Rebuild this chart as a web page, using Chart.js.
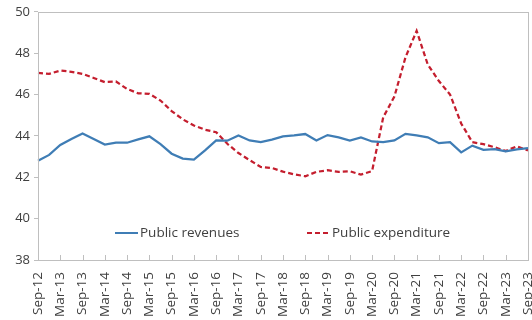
<!DOCTYPE html>
<html>
<head>
<meta charset="utf-8">
<script src="https://cdn.jsdelivr.net/npm/chart.js@4/dist/chart.umd.min.js"></script>
<style>
  html, body { margin: 0; padding: 0; background: #ffffff; }
  #wrap { width: 532px; height: 320px; position: relative; }
</style>
</head>
<body>
<div id="wrap"><canvas id="c" width="532" height="320"></canvas></div>
<script>
const quarters = [
  'Sep-12','Dec-12','Mar-13','Jun-13','Sep-13','Dec-13','Mar-14','Jun-14','Sep-14','Dec-14',
  'Mar-15','Jun-15','Sep-15','Dec-15','Mar-16','Jun-16','Sep-16','Dec-16','Mar-17','Jun-17',
  'Sep-17','Dec-17','Mar-18','Jun-18','Sep-18','Dec-18','Mar-19','Jun-19','Sep-19','Dec-19',
  'Mar-20','Jun-20','Sep-20','Dec-20','Mar-21','Jun-21','Sep-21','Dec-21','Mar-22','Jun-22',
  'Sep-22','Dec-22','Mar-23','Jun-23','Sep-23'
];

const publicRevenues = [
  42.80, 43.08, 43.56, 43.85, 44.12, 43.85, 43.58, 43.67, 43.67, 43.83,
  43.98, 43.60, 43.14, 42.90, 42.85, 43.30, 43.78, 43.77, 44.02, 43.78,
  43.70, 43.82, 43.98, 44.02, 44.09, 43.78, 44.04, 43.93, 43.77, 43.93,
  43.73, 43.70, 43.78, 44.10, 44.02, 43.93, 43.65, 43.70, 43.20, 43.53,
  43.33, 43.36, 43.25, 43.35, 43.41
];

const publicExpenditure = [
  47.05, 47.00, 47.16, 47.10, 47.00, 46.80, 46.60, 46.63, 46.27, 46.06,
  46.03, 45.71, 45.20, 44.80, 44.50, 44.30, 44.18, 43.62, 43.17, 42.83,
  42.50, 42.45, 42.27, 42.14, 42.05, 42.26, 42.34, 42.26, 42.29, 42.13,
  42.30, 44.90, 45.90, 47.80, 49.08, 47.45, 46.65, 46.00, 44.60, 43.70,
  43.60, 43.45, 43.27, 43.50, 43.30
];

const seriesNames = ['Public revenues', 'Public expenditure'];
const yTicks = [38, 40, 42, 44, 46, 48, 50];

const FONT = '"Open Sans", "Noto Sans", sans-serif';
const TEXT = '#404040';
const AXIS = '#bfbfbf';

const frame = {
  id: 'frame',
  afterDatasetsDraw(chart) {
    const { ctx, chartArea: a, scales } = chart;
    ctx.save();
    ctx.strokeStyle = AXIS;
    ctx.lineWidth = 1;
    ctx.strokeRect(Math.round(a.left) + 0.5, Math.round(a.top) + 0.5,
                   Math.round(a.right - a.left), Math.round(a.bottom - a.top));
    const xs = scales.x;
    ctx.beginPath();
    for (let i = 0; i < quarters.length; i += 2) {
      const x = Math.round(xs.getPixelForValue(i)) + 0.5;
      ctx.moveTo(x, a.bottom);
      ctx.lineTo(x, a.bottom - 5);
    }
    ctx.stroke();

    const items = chart.data.datasets;
    const ly = a.bottom - 27;
    const starts = [a.left + 77, a.left + 269];
    ctx.font = '13.5px ' + FONT;
    ctx.textBaseline = 'middle';
    items.forEach((ds, k) => {
      const x0 = starts[k];
      ctx.beginPath();
      ctx.strokeStyle = ds.borderColor;
      ctx.lineWidth = 2;
      ctx.setLineDash(ds.borderDash || []);
      ctx.moveTo(x0, ly);
      ctx.lineTo(x0 + 23, ly);
      ctx.stroke();
      ctx.setLineDash([]);
      ctx.fillStyle = TEXT;
      ctx.fillText(ds.label, x0 + 25, ly);
    });
    ctx.restore();
  }
};

new Chart(document.getElementById('c'), {
  type: 'line',
  data: {
    labels: quarters,
    datasets: [
      {
        label: seriesNames[0],
        data: publicRevenues,
        borderColor: '#3F7DB5',
        borderWidth: 2.25,
        pointRadius: 0,
        tension: 0,
        fill: false
      },
      {
        label: seriesNames[1],
        data: publicExpenditure,
        borderColor: '#C41E2E',
        borderWidth: 2.25,
        borderDash: [5, 3],
        pointRadius: 0,
        tension: 0,
        fill: false
      }
    ]
  },
  options: {
    responsive: false,
    animation: false,
    devicePixelRatio: 1,
    layout: { padding: { top: 11, right: 4, left: 0, bottom: 0 } },
    plugins: {
      legend: { display: false },
      tooltip: { enabled: false }
    },
    scales: {
      x: {
        type: 'category',
        offset: false,
        grid: { display: false, drawOnChartArea: false },
        border: { display: false },
        ticks: {
          autoSkip: false,
          maxRotation: 90,
          minRotation: 90,
          padding: 4,
          color: TEXT,
          font: { family: FONT, size: 13.5 },
          callback: (v, i) => (i % 2 === 0 ? quarters[i] : '')
        },
        afterFit(scale) {
          scale.height = 60;
          scale.paddingLeft = 0;
          scale.paddingRight = 0;
        }
      },
      y: {
        min: yTicks[0],
        max: yTicks[yTicks.length - 1],
        afterBuildTicks(scale) { scale.ticks = yTicks.map(v => ({ value: v })); },
        grid: { drawOnChartArea: false, drawTicks: true, tickLength: 4, color: AXIS },
        border: { display: false },
        ticks: {
          padding: 4,
          color: TEXT,
          font: { family: FONT, size: 13 }
        },
        afterFit(scale) { scale.width = 38; }
      }
    }
  },
  plugins: [frame]
});
</script>
</body>
</html>
